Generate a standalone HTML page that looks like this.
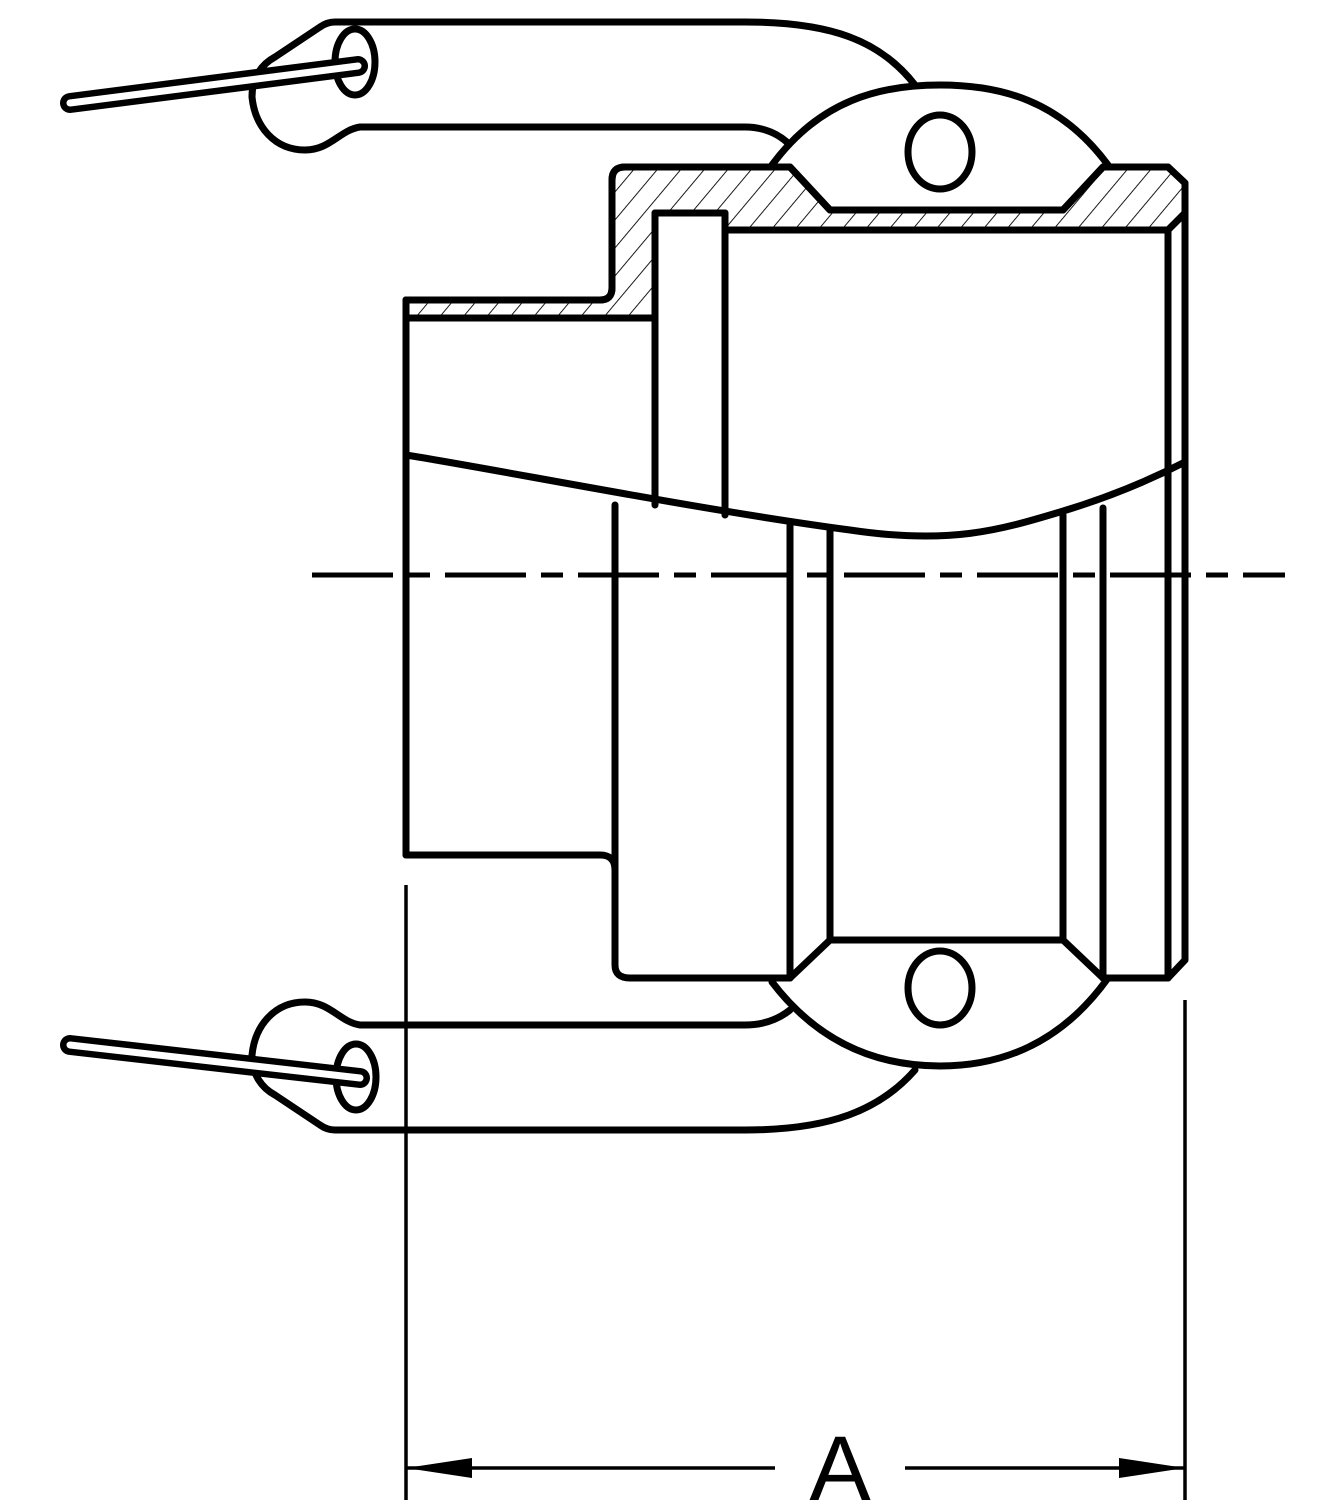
<!DOCTYPE html>
<html><head><style>html,body{margin:0;padding:0;background:#fff}</style></head><body>
<svg width="1334" height="1500" viewBox="0 0 1334 1500" xmlns="http://www.w3.org/2000/svg">
<defs>
<pattern id="h" patternUnits="userSpaceOnUse" width="18" height="18" patternTransform="rotate(40)">
<line x1="0" y1="0" x2="0" y2="18" stroke="#000" stroke-width="1.8"/>
</pattern>
</defs>
<g fill="none" stroke="#000" stroke-width="7" stroke-linejoin="round" stroke-linecap="round">
<!-- top lever -->
<path d="M915,85 C880,40 830,22 745,22 L335,22 Q327,22 320,27 L275,57 C262,64 252,77 252,97 C255,127 275,150 305,150 C330,150 340,130 360,127 L745,127 C765,127 780,135 790,145"/>
<ellipse cx="355" cy="62" rx="20" ry="33" fill="#fff"/>
<line x1="70" y1="103" x2="358" y2="66" stroke-width="20"/>
<line x1="70" y1="103" x2="358" y2="66" stroke="#fff" stroke-width="7"/>
<!-- bottom lever -->
<path d="M915,1070 C880,1110 830,1130 745,1130 L335,1130 Q327,1130 320,1125 L275,1095 C262,1088 252,1075 252,1055 C255,1025 275,1002 305,1002 C330,1002 340,1022 360,1025 L745,1025 C765,1025 780,1018 790,1010"/>
<ellipse cx="356" cy="1077" rx="20" ry="33" fill="#fff"/>
<line x1="70" y1="1045" x2="360" y2="1078" stroke-width="20"/>
<line x1="70" y1="1045" x2="360" y2="1078" stroke="#fff" stroke-width="7"/>
<!-- domes -->
<path d="M772,165 C820,100 880,85 940,85 C1000,85 1060,100 1108,165" fill="#fff"/>
<ellipse cx="940" cy="152" rx="32" ry="37"/>
<path d="M772,982 C820,1045 880,1066 940,1066 C1000,1066 1060,1045 1108,978" fill="#fff"/>
<ellipse cx="940" cy="988" rx="32" ry="37"/>
<!-- hatched section -->
<path d="M406,300 L600,300 Q612,300 612,288 L612,180 Q612,167 625,167 L790,167 L830,210 L1063,210 L1103,167 L1168,167 L1185,183 L1185,213 L1168,230 L725,230 L725,213 L655,213 L655,318 L406,318 Z" fill="url(#h)"/>
<path d="M406,300 L600,300 Q612,300 612,288 L612,180 Q612,167 625,167 L790,167 L830,210 L1063,210 L1103,167 L1168,167 L1185,183 L1185,960 L1168,978"/>
<!-- tube -->
<line x1="406" y1="300" x2="406" y2="855"/>
<path d="M406,855 L600,855 Q615,855 615,870"/>
<line x1="655" y1="213" x2="655" y2="505"/>
<line x1="725" y1="213" x2="725" y2="515"/>
<line x1="1168" y1="230" x2="1168" y2="978"/>
<!-- break line -->
<path d="M406,455 C500,470 700,510 850,530 C950,545 1000,530 1060,512 C1110,497 1150,480 1185,462"/>
<!-- lower part -->
<path d="M615,505 L615,965 Q615,978 630,978 L790,978"/>
<line x1="790" y1="525" x2="790" y2="978"/>
<line x1="830" y1="530" x2="830" y2="940"/>
<line x1="830" y1="940" x2="1063" y2="940"/>
<line x1="830" y1="940" x2="790" y2="978"/>
<line x1="1063" y1="515" x2="1063" y2="940"/>
<line x1="1103" y1="508" x2="1103" y2="978"/>
<line x1="1063" y1="940" x2="1103" y2="978"/>
<line x1="1103" y1="978" x2="1168" y2="978"/>
</g>
<!-- centerline -->
<line x1="312" y1="575" x2="1285" y2="575" stroke="#000" stroke-width="5" stroke-dasharray="81 15 22 15"/>
<!-- dimension -->
<g stroke="#000" stroke-width="3.5">
<line x1="406" y1="885" x2="406" y2="1500"/>
<line x1="1185" y1="1000" x2="1185" y2="1500"/>
<line x1="406" y1="1468" x2="775" y2="1468"/>
<line x1="905" y1="1468" x2="1185" y2="1468"/>
</g>
<polygon points="406,1468 472,1458 472,1478" fill="#000"/>
<polygon points="1185,1468 1119,1458 1119,1478" fill="#000"/>
<text x="840" y="1500" font-family="Liberation Sans, sans-serif" font-size="92" text-anchor="middle" fill="#000">A</text>
</svg>
</body></html>
